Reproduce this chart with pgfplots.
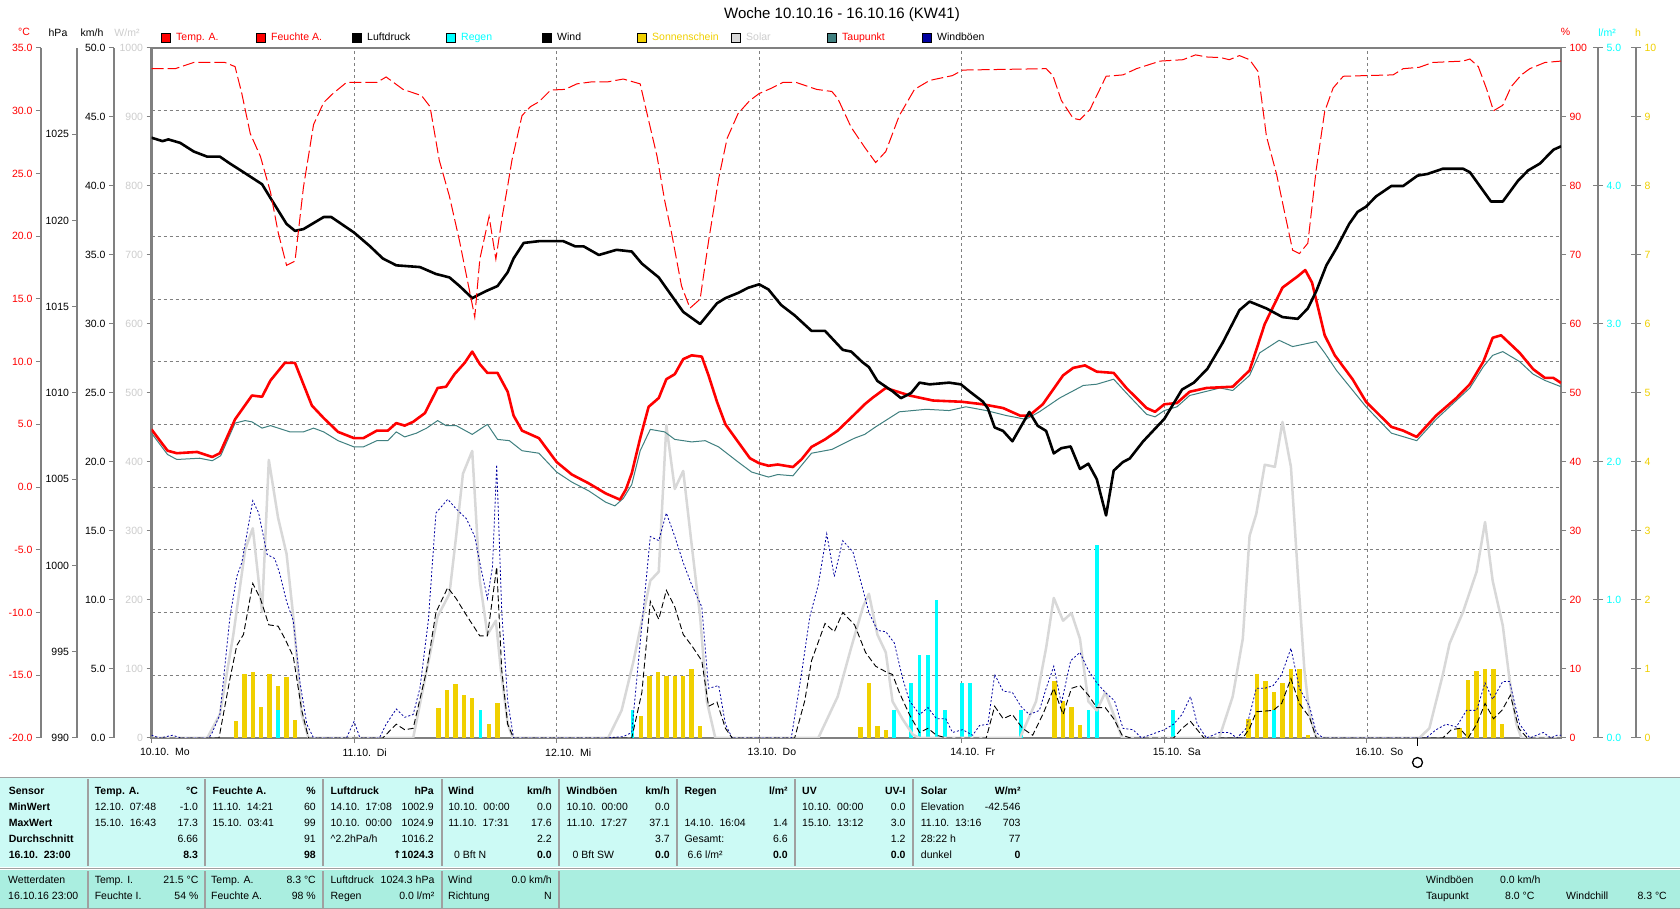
\documentclass[border=0pt]{standalone}
\usepackage{fontspec}
\setmainfont{Liberation Sans}
\newfontfamily\dejavu{DejaVu Sans}
\usepackage{pgfplots}
\usepackage{pgfplotstable}
\pgfplotsset{compat=1.18}
\definecolor{axgray}{RGB}{128,128,128}
\definecolor{sunyel}{RGB}{240,208,0}
\definecolor{solgray}{RGB}{216,216,216}
\definecolor{solab}{RGB}{205,205,205}
\definecolor{teal2}{RGB}{64,128,128}
\definecolor{gust}{RGB}{0,0,160}
\definecolor{cyan2}{RGB}{0,255,255}
\definecolor{tab1}{RGB}{204,250,245}
\definecolor{tab2}{RGB}{170,238,224}
\definecolor{divg}{RGB}{160,160,160}

\pgfplotstableread{
t v
0 4.6
1.9 2.9
3 2.7
5.4 2.8
7.2 2.4
8.1 2.7
9.9 5.4
11.9 7.3
13.1 7.2
14.1 8.5
15.8 9.9
17 9.9
19 6.5
20.4 5.5
22.1 4.4
24 3.9
25.1 3.9
26.7 4.5
28 4.5
29 5.1
30 4.9
31 5.2
32.4 5.9
33.9 7.9
34.9 8.0
35.9 9.0
37.1 9.9
38 10.8
38.9 9.8
39.8 9.1
41 9.1
42.2 7.6
42.9 5.7
43.9 4.5
45.9 3.9
48 2.0
49.8 1.0
51.8 0.3
53.8 -0.5
55.5 -1.0
56.2 -0.2
56.9 1.1
57.9 3.9
58.9 6.4
60.1 7.1
61 8.6
62 9.0
63 10.2
64 10.5
65.2 10.4
66 8.9
67 6.8
68 5.0
69.5 3.6
70.9 2.3
72 1.9
73.1 1.7
74.2 1.8
76 1.6
77 2.2
78.2 3.2
79.8 3.8
81.3 4.5
83.3 5.8
84.5 6.6
85.4 7.1
87 7.9
89.8 7.3
92.6 6.9
96 6.8
98.5 6.6
100.9 6.3
102.9 5.7
104 5.7
105.6 6.6
108 8.9
109.2 9.5
110.6 9.7
112 9.2
114 9.1
115.5 7.9
117.9 6.3
118.9 6.0
120 6.6
121.5 6.7
123 7.6
125 7.9
128.1 8.0
130.1 9.3
131.9 13.0
134 15.9
135.8 16.8
136.7 17.3
137.5 16.3
139 12.1
140.2 10.5
142.3 8.6
143.9 6.8
146.9 4.8
148.3 4.5
149.9 4.0
152.2 5.7
154.6 7.1
156.2 8.2
157.8 10.0
158.9 11.9
159.9 12.1
162.1 10.7
163.7 9.4
165.1 8.7
166.1 8.7
167 8.3
}\temp

\pgfplotstableread{
t v
0 4.3
1.9 2.6
3 2.2
5.7 2.3
7.2 2.1
8.2 2.5
9.9 5.1
11.1 5.3
11.9 5.2
13.1 4.7
14.1 4.9
16.4 4.4
18 4.4
19.2 4.7
20.4 4.4
22.1 3.7
24 3.2
25.1 3.2
26.7 3.7
28 3.7
29 4.4
30 4.0
31.4 4.3
32.6 4.7
33.9 5.3
34.9 4.9
36.1 4.9
38 4.2
39.8 5.0
41 3.8
42.4 3.7
43.9 2.9
45.9 2.7
48 1.2
49.8 0.4
51.8 -0.3
53.8 -1.2
54.9 -1.5
55.9 -0.9
56.9 0.2
57.9 2.9
59.1 4.6
60.8 4.4
62 3.8
64 3.6
65.6 3.7
67.2 3.2
69.5 2.0
71.1 1.2
73.1 0.8
74.2 1.0
76 0.9
78.2 2.7
80.6 3.0
83.3 3.9
84.5 4.2
85.8 4.8
88.6 6.0
91.8 6.2
94.5 6.1
96.5 6.4
98.9 6.1
101.3 5.7
103.6 5.4
105.2 6.0
107.6 7.1
110.4 8.1
112 8.2
114 8.6
115.5 7.5
117.9 5.8
118.9 5.6
120 6.1
121.5 6.4
123 7.3
126.6 7.9
128.1 7.7
130.1 8.9
131.3 10.7
133.6 11.7
135.2 11.2
138 11.6
139 10.7
140.4 9.3
143.9 6.4
146.9 4.3
149.9 3.7
152.2 5.4
156.2 7.9
157.8 9.6
158.9 10.5
160.1 10.8
162.1 10.0
163.7 9.0
165.1 8.5
167 8.0
}\dew

\pgfplotstableread{
t v
0 97.0
2.8 97.0
5 97.9
8.7 97.9
9.9 97.3
10.7 93.4
11.7 87.6
12.9 84.3
14.1 79.1
15 73.3
16 68.5
17 69.1
18 79.8
19.2 88.9
20.4 92.1
21.5 93.4
23.1 95.0
26.7 95.0
27.8 95.8
29.8 94.0
32 93.1
33 91.5
34.1 83.7
35.3 78.5
36.5 72.0
38.3 61.0
38.9 69.4
40 75.6
40.8 69.4
41.6 75.9
42.2 80.0
42.7 83.7
43.9 90.2
44.9 91.5
45.9 92.2
47.3 93.9
49 94.0
50.4 94.8
52.2 95.1
54.1 95.1
55.9 95.5
57.9 94.8
58.9 89.5
59.9 84.3
60.8 77.9
61.6 73.3
62.8 65.5
63.8 62.3
65 63.6
66 72.0
67.2 81.1
68.2 86.9
69.5 90.5
70.9 92.4
72 93.4
73.5 94.2
74.8 95.0
76.4 95.0
78.8 94.0
80.6 93.7
81.3 92.7
82.9 88.5
84.5 85.6
85.8 83.4
87 85.0
88.6 90.2
90.4 94.0
92.2 95.3
94.9 96.0
96.1 96.8
106 97.0
106.8 96.0
107.8 92.4
109.2 89.8
110 89.6
111.2 91.1
113.1 95.9
115.1 96.1
116.7 97.0
119.5 98.1
122.2 98.3
123.7 99.0
125 98.7
126.7 98.6
127.7 98.3
128.9 98.9
130.1 98.3
131.1 96.6
132.1 87.2
133.3 81.7
134.4 75.3
135.2 70.7
136 70.2
137 71.7
138 82.4
139 90.8
140 94.2
141.2 95.9
143.9 96.0
147.1 96.1
148.3 97.0
150.2 97.2
151.8 97.9
155.4 98.1
156.2 98.4
157.2 97.3
158.2 94.0
159 90.9
160.1 91.7
161.1 94.4
162.3 96.1
163.3 97.0
165.1 97.9
167 98.1
}\hum

\pgfplotstableread{
t v
0 1024.8
1.3 1024.6
2 1024.7
3.4 1024.5
5 1024.0
6.6 1023.7
8.1 1023.7
9.3 1023.3
10.9 1022.8
13.1 1022.1
14.1 1021.3
16 1019.8
17 1019.4
18 1019.5
20.4 1020.2
21.3 1020.2
24 1019.3
25.9 1018.5
27.4 1017.8
29 1017.4
31.8 1017.3
33.7 1016.9
35.3 1016.7
36.5 1016.2
38 1015.5
39.6 1015.9
41 1016.2
42.2 1017.0
42.9 1017.8
44.1 1018.7
45.9 1018.8
48.8 1018.8
50.2 1018.5
51.2 1018.5
53 1018.0
55.1 1018.3
56.9 1018.2
58.1 1017.5
60.1 1016.7
61.4 1015.8
63 1014.7
65 1014.0
67 1015.2
68 1015.5
69.5 1015.8
70.7 1016.1
72 1016.3
73.1 1016.0
74.6 1015.1
76.2 1014.5
78.2 1013.6
79.8 1013.6
81.9 1012.5
82.9 1012.4
84.2 1011.8
85 1011.5
86 1010.7
87.8 1010.1
88.8 1009.7
90 1010.0
91 1010.6
92.2 1010.5
94.5 1010.6
95.9 1010.5
96.9 1010.1
98.5 1009.5
99.1 1009.1
99.9 1008.0
100.9 1007.8
102 1007.2
104 1008.9
105 1008.1
106 1007.8
106.9 1006.5
107.8 1006.8
108.9 1006.9
110 1005.6
111 1005.9
112 1005.0
113.1 1002.9
114 1005.5
115.1 1006.0
115.9 1006.2
117.5 1007.2
120 1008.5
122.1 1010.2
123.5 1010.6
125.1 1011.4
126.9 1012.9
128.9 1014.8
130.1 1015.3
132.1 1014.9
134 1014.4
135.8 1014.3
137 1014.9
138 1015.9
139.2 1017.4
140.4 1018.4
141.9 1019.8
142.9 1020.5
143.9 1020.8
145.1 1021.4
146.9 1022.0
148.3 1022.0
150 1022.6
151.2 1022.7
153 1023.0
155.4 1023.0
156.2 1022.8
158.7 1021.1
160.1 1021.1
161.9 1022.3
163.1 1022.9
164.5 1023.3
166.1 1024.1
167 1024.3
}\press

\pgfplotstableread{
t v
0 0
8 0
8.3 1.0
9.3 4.3
10.1 6.7
10.9 7.5
12 11.2
12.9 10.1
13.9 8.2
15 8.1
15.8 7.2
16.8 5.9
17.8 2.0
18.6 0
27.4 0
29 1.0
30 0.6
31 0.7
32.6 4.9
33.7 9.1
35.1 10.9
36.1 10.1
37.1 9.1
38.9 7.4
39.8 7.4
40.4 10.1
40.9 12.4
41.5 4.9
42.2 1.0
42.9 0
56.9 0
58.1 3.3
59.1 9.9
60.1 8.6
61 10.7
62 9.5
63 7.5
64 6.7
65.2 5.6
66 2.3
67 2.6
68 0.7
68.8 0
76.2 0
77.4 2.7
78.2 5.6
79.8 8.3
80.9 7.7
81.9 9.1
83.3 8.2
84.6 6.2
85.8 5.2
87 4.8
87.8 4.6
88.6 3.3
89.8 1.7
91 0.4
92 0.7
93 0.2
94.2 0
98.9 0
99.9 2.3
100.9 1.4
102 1.7
103.2 0.7
104.4 0.2
105.6 1.7
106.9 3.6
108 1.7
109 3.6
110 3.8
111 3.1
112 2.2
113 2.2
114 1.4
115 0.2
116 0
121.1 0
122.1 0.7
123.1 1.2
123.9 0.6
124.7 0
129.3 0
130.1 0.7
130.9 1.9
132.9 2.0
133.9 2.5
135 4.3
136 2.5
137.2 1.5
138 0
153 0
154 0.6
155 0.7
156 0
157 1.0
158 2.5
159 1.4
160 2.0
161 3.1
162 0.7
163 0
167 0
}\wind

\pgfplotstableread{
t v
0 0.2
1 0
2.5 0.2
3.5 0
6.8 0
7.2 0.4
8.1 1.7
9.3 8.8
10.1 11.7
10.7 12.7
12 17.2
12.7 16.3
13.7 13.3
14.6 13.0
15.2 11.9
16 9.9
16.8 8.5
17.6 4.0
18.4 1.0
19.2 0
23.1 0
24 1.2
24.7 0
27 0
27.8 1.0
29 2.1
30 1.5
31 1.7
31.8 3.6
32.8 8.5
33.7 16.3
35.1 17.3
36.1 16.6
37.3 15.9
38.3 14.6
38.9 12.7
39.8 10.1
40.4 12.4
40.9 19.8
41.5 9.1
42.2 2.7
42.9 0
53.8 0
55.9 0.1
56.9 0.4
57.9 6.9
59.1 14.6
60.1 14.3
61 16.3
62 14.6
63 12.7
64 11.1
65.2 9.5
66 3.6
67.2 3.8
68 1.0
68.8 0
75.8 0
77 4.6
78 8.8
79 11.1
80 14.8
80.9 11.7
81.9 14.3
83.1 13.5
84.4 10.5
85 9.1
86 7.8
87 7.7
88 6.9
89 4.3
89.8 2.7
91 1.7
92 2.2
93 1.4
94.1 1.4
94.9 0.4
96.1 0.6
97.3 0.2
98.1 0.9
99.1 1.0
99.9 4.6
100.9 3.4
102 3.3
103 2.3
104 1.7
105.2 2.0
106 3.6
106.9 5.2
107.8 2.5
108.9 5.6
110 6.2
111 4.9
112 4.0
113 3.3
114.1 2.7
115.1 0.7
116.3 0.6
117.3 0
119.1 0.4
120 0.6
121.1 1.0
122.1 1.7
123.1 3.0
123.9 1.0
125 0
126.5 0.4
127.7 0.4
128.6 0
129.7 0.7
130.9 3.6
131.9 3.6
132.9 3.8
133.9 4.6
135 6.5
136 3.6
137.2 2.3
138 0.4
138.8 0
151 0
152.2 0.6
153.4 1.0
154.6 0.8
155.8 2.0
157 2.0
158 4.0
158.9 2.8
160.1 4.1
160.9 4.1
162.1 1.0
163.3 0
164.9 0.4
165.8 0
166.5 0.2
167 0.2
}\gusts

\pgfplotstableread{
t v
0 0
6.6 0
8.1 34
9.7 150
11.1 273
12 304
13.1 183
13.9 403
15 319
16 267
16.8 176
17.8 34
18.6 0
31 0
32.6 98
33.9 176
35.3 209
36.1 293
36.9 383
38 416
38.9 228
39.8 150
40.8 170
41.4 98
42.2 21
42.8 0
54.1 0
55.7 40
57.1 111
58.1 170
59.1 228
60.1 241
61 453
62 361
63 387
64 280
65 176
65.8 53
66.8 0
79 0
81.3 60
82.9 131
84.3 190
85 209
86 150
87 124
87.8 53
89 27
90.2 5
91 0
102.9 0
104.8 53
106 131
106.9 203
108 170
109 181
110 144
111 53
112 40
113 66
114 34
115 0
126.5 0
128.1 60
129.3 144
130.1 293
130.9 325
131.9 396
133.1 393
134 458
135 393
135.8 241
136.6 98
137.2 34
138 0
150.2 0
151.4 14
153 92
153.8 137
155.4 183
157 241
158 313
158.9 228
160.1 163
160.9 85
161.7 21
162.3 0
167 0
}\solar

\pgfplotstableread{
t v
10 0.24
11 0.93
12 0.96
13 0.45
14 0.93
15 0.76
16 0.89
17 0.26
34 0.43
35 0.69
36 0.78
37 0.63
38 0.58
40 0.21
41 0.51
58 0.32
59 0.90
60 0.96
61 0.90
62 0.90
63 0.90
64 1.00
65 0.17
84 0.16
85 0.79
86 0.17
87 0.11
107 0.82
108 0.53
109 0.45
110 0.19
130 0.27
131 0.93
132 0.82
133 0.67
134 0.80
135 1.00
136 1.00
137 0.05
155 0.14
156 0.84
157 0.97
158 1.00
159 1.00
160 0.21
}\sun

\pgfplotstableread{
t v
15 0.2
39 0.2
57 0.2
88 0.2
90 0.4
91 0.6
92 0.6
93 1.0
94 0.2
96 0.4
97 0.4
103 0.2
111 0.2
112 1.4
121 0.2
133 0.2
}\rain

\pgfplotsset{
  base/.style={at={(151.5pt,171pt)}, anchor=south west, scale only axis,
    width=1409.5pt, height=690pt, xmin=0, xmax=167,
    tick label style={font=\fontsize{10.5}{12}\selectfont},
    tick align=outside, major tick length=5pt},
  yax/.style 2 args={base, hide x axis, axis y line*=#1,
    y axis line style={draw=axgray, line width=2pt, xshift=#2},
    ytick style={draw=axgray, line width=1pt, xshift=#2},
    yticklabel style={xshift=#2}},
}
\newcommand\fs{\fontsize{10.5}{12}\selectfont}
\newcommand\tl[3]{\node[anchor=mid west, inner sep=0pt, font=\fs] at (#1pt,{(909-#2)*1pt}) {#3};}
\newcommand\tr[3]{\node[anchor=mid east, inner sep=0pt, font=\fs] at (#1pt,{(909-#2)*1pt}) {#3};}

\begin{document}
\begin{tikzpicture}
\useasboundingbox (0,0) rectangle (1680pt,909pt);
\fill[white] (0,0) rectangle (1680pt,909pt);

% frame with grid
\begin{axis}[base, ymin=-20, ymax=35, clip=false,
  axis line style={draw=axgray, line width=2.5pt},
  xtick={0,24,48,72,96,120,144}, xtick pos=bottom,
  xticklabels={10.10.\ \ Mo,11.10.\ \ Di,12.10.\ \ Mi,13.10.\ \ Do,14.10.\ \ Fr,15.10.\ \ Sa,16.10.\ \ So},
  xticklabel style={anchor=north west, xshift=-15pt, yshift=-2pt},
  xtick style={draw=axgray, line width=1pt},
  ytick={-15,-10,...,30}, yticklabels={}, ytick style={draw=none},
  xmajorgrids, ymajorgrids,
  grid style={dash pattern=on 3pt off 3pt, draw=axgray, line width=0.7pt},
]
\draw[black, line width=1pt] (axis cs:150,-20) -- ++(0pt,-8pt);
\node[circle, draw=black, line width=1.3pt, minimum size=10pt, inner sep=0pt] at ([yshift=-24.5pt]axis cs:150,-20) {};
\end{axis}

% sunshine (h)
\begin{axis}[yax={right}{75pt}, ymin=0, ymax=10, ytick={0,1,...,10},
  yticklabels={0,1,2,3,4,5,6,7,8,9,10}, yticklabel style={text=sunyel}, tick align=center, major tick length=10pt]
\addplot[ycomb, draw=sunyel, line width=4.5pt, mark=none] table[x=t,y=v] {\sun};
\end{axis}

% rain (l/m2)
\begin{axis}[yax={right}{37pt}, ymin=0, ymax=5, ytick={0,1,...,5},
  yticklabels={0.0,1.0,2.0,3.0,4.0,5.0}, yticklabel style={text=cyan2}, tick align=center, major tick length=10pt]
\addplot[ycomb, draw=cyan2, line width=3.5pt, mark=none] table[x=t,y=v] {\rain};
\end{axis}

% solar (W/m2)
\begin{axis}[yax={left}{0pt}, ymin=0, ymax=1000, ytick={0,100,...,1000},
  yticklabels={0,100,200,300,400,500,600,700,800,900,1000}, yticklabel style={text=solab},
  y axis line style={draw=none}]
\addplot[solgray, line width=2.5pt, line join=round, mark=none] table[x=t,y=v] {\solar};
\end{axis}

% wind (km/h)
\begin{axis}[yax={left}{-37.5pt}, ymin=0, ymax=50, ytick={0,5,...,50},
  yticklabels={0.0,5.0,10.0,15.0,20.0,25.0,30.0,35.0,40.0,45.0,50.0}]
\addplot[gust, line width=0.8pt, dash pattern=on 2pt off 2pt, mark=none] table[x=t,y=v] {\gusts};
\addplot[black, line width=0.9pt, dash pattern=on 6pt off 3pt, mark=none] table[x=t,y=v] {\wind};
\end{axis}

% temperature
\begin{axis}[yax={left}{-110.5pt}, ymin=-20, ymax=35, ytick={-20,-15,...,35},
  yticklabels={-20.0,-15.0,-10.0,-5.0,0.0,5.0,10.0,15.0,20.0,25.0,30.0,35.0}, yticklabel style={text=red}]
\addplot[teal2, line width=1pt, line join=round, mark=none] table[x=t,y=v] {\dew};
\addplot[red, line width=2.6pt, line join=round, mark=none] table[x=t,y=v] {\temp};
\end{axis}

% pressure
\begin{axis}[yax={left}{-74pt}, ymin=990, ymax=1030, ytick={990,995,...,1025},
  yticklabels={990,995,1000,1005,1010,1015,1020,1025}]
\addplot[black, line width=2.6pt, line join=round, mark=none] table[x=t,y=v] {\press};
\end{axis}

% humidity
\begin{axis}[yax={right}{0pt}, ymin=0, ymax=100, ytick={0,10,...,100},
  yticklabels={0,10,20,30,40,50,60,70,80,90,100}, yticklabel style={text=red},
  y axis line style={draw=none}]
\addplot[red, line width=1pt, dash pattern=on 12pt off 4pt, mark=none] table[x=t,y=v] {\hum};
\end{axis}

% title
\node[font=\fontsize{15}{17}\selectfont] at (842pt,894pt) {Woche 10.10.16 - 16.10.16 (KW41)};
% unit headers
\node[font=\fs, text=red] at (24pt,{(909-32.3)*1pt}) {°C};
\node[font=\fs] at (58pt,{(909-32.3)*1pt}) {hPa};
\node[font=\fs] at (92pt,{(909-32.3)*1pt}) {km/h};
\node[font=\fs, text=solab] at (127pt,{(909-32.3)*1pt}) {W/m²};
\node[font=\fs, text=red] at (1565.5pt,{(909-32.3)*1pt}) {\%};
\node[font=\fs, text=cyan2] at (1607pt,{(909-32.3)*1pt}) {l/m²};
\node[font=\fs, text=sunyel] at (1638pt,{(909-32.3)*1pt}) {h};
% legend
\foreach \xx/\cc/\tc/\lab in {161/red/red/Temp. A., 256/red/red/Feuchte A., 352/black/black/Luftdruck, 446/cyan2/cyan2/Regen, 542/black/black/Wind, 637/sunyel/sunyel/Sonnenschein, 731/solgray/solab/Solar, 827/teal2/red/Taupunkt, 922/gust/black/Windböen}{
  \filldraw[fill=\cc, draw=black, line width=0.8pt] (\xx pt,{(909-42)*1pt}) rectangle ++(9pt,9pt);
  \node[anchor=mid west, inner sep=0pt, font=\fs, text=\tc] at ({(\xx+15)*1pt},{(909-37.7)*1pt}) {\lab};
}

% table
\fill[tab1] (0,{(909-867)*1pt}) rectangle (1680pt,{(909-778)*1pt});
\fill[tab2] (0,0) rectangle (1680pt,{(909-870)*1pt});
\draw[divg, line width=1.5pt] (0,{(909-868.5)*1pt}) -- (1680pt,{(909-868.5)*1pt});
\draw[divg, line width=1pt] (0,{(909-778)*1pt}) -- (1680pt,{(909-778)*1pt});
\draw[divg, line width=1pt] (0,0.5pt) -- (1680pt,0.5pt);
\foreach \xx in {88,205,323,442,559,677,795,913}{
  \draw[divg, line width=1.5pt] (\xx pt,{(909-866)*1pt}) -- (\xx pt,{(909-779)*1pt});
}
\foreach \xx in {88,205,323,442,559}{
  \draw[divg, line width=1.5pt] (\xx pt,1pt) -- (\xx pt,{(909-871)*1pt});
}
% column 1
\tl{8.6}{791.7}{\bfseries Sensor}
\tl{8.6}{807.7}{\bfseries MinWert}
\tl{8.6}{823.7}{\bfseries MaxWert}
\tl{8.6}{839.7}{\bfseries Durchschnitt}
\tl{8.6}{855.7}{\bfseries 16.10.\ \ 23:00}
% Temp A
\tl{94.6}{791.7}{\bfseries Temp. A.}\tr{198.2}{791.7}{\bfseries °C}
\tl{94.6}{807.7}{12.10.\ \ 07:48}\tr{198.2}{807.7}{-1.0}
\tl{94.6}{823.7}{15.10.\ \ 16:43}\tr{198.2}{823.7}{17.3}
\tr{198.2}{839.7}{6.66}
\tr{198.2}{855.7}{\bfseries 8.3}
% Feuchte
\tl{212.5}{791.7}{\bfseries Feuchte A.}\tr{316}{791.7}{\bfseries \%}
\tl{212.5}{807.7}{11.10.\ \ 14:21}\tr{316}{807.7}{60}
\tl{212.5}{823.7}{15.10.\ \ 03:41}\tr{316}{823.7}{99}
\tr{316}{839.7}{91}
\tr{316}{855.7}{\bfseries 98}
% Luftdruck
\tl{330.4}{791.7}{\bfseries Luftdruck}\tr{434}{791.7}{\bfseries hPa}
\tl{330.4}{807.7}{14.10.\ \ 17:08}\tr{434}{807.7}{1002.9}
\tl{330.4}{823.7}{10.10.\ \ 00:00}\tr{434}{823.7}{1024.9}
\tl{330.4}{839.7}{\textasciicircum 2.2hPa/h}\tr{434}{839.7}{1016.2}
\tr{434}{855.7}{{\dejavu\bfseries ↑}\bfseries 1024.3}
% Wind
\tl{448.2}{791.7}{\bfseries Wind}\tr{551.8}{791.7}{\bfseries km/h}
\tl{448.2}{807.7}{10.10.\ \ 00:00}\tr{551.8}{807.7}{0.0}
\tl{448.2}{823.7}{11.10.\ \ 17:31}\tr{551.8}{823.7}{17.6}
\tr{551.8}{839.7}{2.2}
\tl{454}{855.7}{0 Bft N}\tr{551.8}{855.7}{\bfseries 0.0}
% Windboeen
\tl{566.4}{791.7}{\bfseries Windböen}\tr{670}{791.7}{\bfseries km/h}
\tl{566.4}{807.7}{10.10.\ \ 00:00}\tr{670}{807.7}{0.0}
\tl{566.4}{823.7}{11.10.\ \ 17:27}\tr{670}{823.7}{37.1}
\tr{670}{839.7}{3.7}
\tl{572.5}{855.7}{0 Bft SW}\tr{670}{855.7}{\bfseries 0.0}
% Regen
\tl{684.3}{791.7}{\bfseries Regen}\tr{787.9}{791.7}{\bfseries l/m²}
\tl{684.3}{823.7}{14.10.\ \ 16:04}\tr{787.9}{823.7}{1.4}
\tl{684.3}{839.7}{Gesamt:}\tr{787.9}{839.7}{6.6}
\tl{687.5}{855.7}{6.6 l/m²}\tr{787.9}{855.7}{\bfseries 0.0}
% UV
\tl{802}{791.7}{\bfseries UV}\tr{905.7}{791.7}{\bfseries UV-I}
\tl{802}{807.7}{10.10.\ \ 00:00}\tr{905.7}{807.7}{0.0}
\tl{802}{823.7}{15.10.\ \ 13:12}\tr{905.7}{823.7}{3.0}
\tr{905.7}{839.7}{1.2}
\tr{905.7}{855.7}{\bfseries 0.0}
% Solar
\tl{920.7}{791.7}{\bfseries Solar}\tr{1020.7}{791.7}{\bfseries W/m²}
\tl{920.7}{807.7}{Elevation}\tr{1020.7}{807.7}{-42.546}
\tl{920.7}{823.7}{11.10.\ \ 13:16}\tr{1020.7}{823.7}{703}
\tl{920.7}{839.7}{28:22 h}\tr{1020.7}{839.7}{77}
\tl{920.7}{855.7}{dunkel}\tr{1020.7}{855.7}{\bfseries 0}
% section 2
\tl{8}{881}{Wetterdaten}
\tl{8}{896.7}{16.10.16 23:00}
\tl{94.6}{881}{Temp. I.}\tr{198.6}{881}{21.5 °C}
\tl{94.6}{896.7}{Feuchte I.}\tr{198.6}{896.7}{54 \%}
\tl{211}{881}{Temp. A.}\tr{316}{881}{8.3 °C}
\tl{211}{896.7}{Feuchte A.}\tr{316}{896.7}{98 \%}
\tl{330.4}{881}{Luftdruck}\tr{434.6}{881}{1024.3 hPa}
\tl{330.4}{896.7}{Regen}\tr{434.6}{896.7}{0.0 l/m²}
\tl{448}{881}{Wind}\tr{552}{881}{0.0 km/h}
\tl{448}{896.7}{Richtung}\tr{552}{896.7}{N}
\tl{1426}{881}{Windböen}\tl{1500}{881}{0.0 km/h}
\tl{1426}{896.7}{Taupunkt}\tl{1505}{896.7}{8.0 °C}
\tl{1566}{896.7}{Windchill}\tr{1667}{896.7}{8.3 °C}
\end{tikzpicture}
\end{document}
